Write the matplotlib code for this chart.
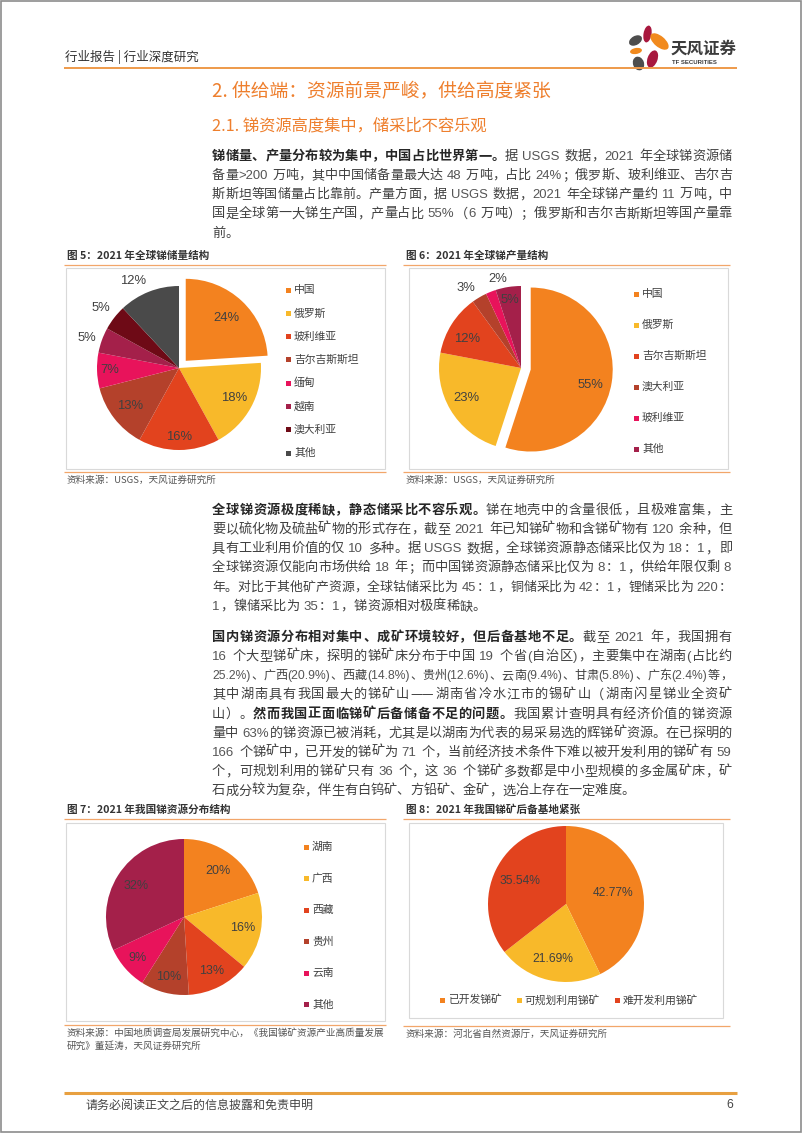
import re
import numpy as np
import matplotlib
matplotlib.use('Agg')
import matplotlib.pyplot as plt
from matplotlib.patches import Rectangle, Ellipse
from matplotlib import font_manager as fm

W, H = 802, 1133
CJK = 'Noto Sans CJK SC'
_names = {f.name for f in fm.fontManager.ttflist}
NARROW = 'Liberation Sans Narrow' if 'Liberation Sans Narrow' in _names else 'Liberation Sans'
plt.rcParams['font.family'] = [CJK, 'DejaVu Sans']

# ---- 数据 ----
res_labels = ['中国', '俄罗斯', '玻利维亚', '吉尔吉斯斯坦', '缅甸', '越南', '澳大利亚', '其他']
res_values = [24, 18, 16, 13, 7, 5, 5, 12]

prod_labels = ['中国', '俄罗斯', '吉尔吉斯斯坦', '澳大利亚', '玻利维亚', '其他']
prod_values = [55, 23, 12, 3, 2, 5]

prov_labels = ['湖南', '广西', '西藏', '贵州', '云南', '其他']
prov_values = [20, 16, 13, 10, 9, 32]

mine_labels = ['已开发锑矿', '可规划利用锑矿', '难开发利用锑矿']
mine_values = [42.77, 21.69, 35.54]

para1 = [
    [('锑储量、产量分布较为集中，中国占比世界第一。', True), ('据 USGS 数据，2021 年全球锑资源储', False)],
    [('备量>200 万吨，其中中国储备量最大达 48 万吨，占比 24%；俄罗斯、玻利维亚、吉尔吉', False)],
    [('斯斯坦等国储量占比靠前。产量方面，据 USGS 数据，2021 年全球锑产量约 11 万吨，中', False)],
    [('国是全球第一大锑生产国，产量占比 55%（6 万吨）；俄罗斯和吉尔吉斯斯坦等国产量靠', False)],
    [('前。', False)],
]
para2 = [
    [('全球锑资源极度稀缺，静态储采比不容乐观。', True), ('锑在地壳中的含量很低，且极难富集，主', False)],
    [('要以硫化物及硫盐矿物的形式存在，截至 2021 年已知锑矿物和含锑矿物有 120 余种，但', False)],
    [('具有工业利用价值的仅 10 多种。据 USGS 数据，全球锑资源静态储采比仅为 18：1，即', False)],
    [('全球锑资源仅能向市场供给 18 年；而中国锑资源静态储采比仅为 8：1，供给年限仅剩 8', False)],
    [('年。对比于其他矿产资源，全球钴储采比为 45：1，铜储采比为 42：1，锂储采比为 220：', False)],
    [('1，镍储采比为 35：1，锑资源相对极度稀缺。', False)],
]
para3 = [
    [('国内锑资源分布相对集中、成矿环境较好，但后备基地不足。', True), ('截至 2021 年，我国拥有', False)],
    [('16 个大型锑矿床，探明的锑矿床分布于中国 19 个省(自治区)，主要集中在湖南(占比约', False)],
    [('25.2%)、广西(20.9%)、西藏(14.8%)、贵州(12.6%)、云南(9.4%)、甘肃(5.8%)、广东(2.4%)等，', False)],
    [('其中湖南具有我国最大的锑矿山——湖南省冷水江市的锡矿山（湖南闪星锑业全资矿', False)],
    [('山）。', False), ('然而我国正面临锑矿后备储备不足的问题。', True), ('我国累计查明具有经济价值的锑资源', False)],
    [('量中 63%的锑资源已被消耗，尤其是以湖南为代表的易采易选的辉锑矿资源。在已探明的', False)],
    [('166 个锑矿中，已开发的锑矿为 71 个，当前经济技术条件下难以被开发利用的锑矿有 59', False)],
    [('个，可规划利用的锑矿只有 36 个，这 36 个锑矿多数都是中小型规模的多金属矿床，矿', False)],
    [('石成分较为复杂，伴生有白钨矿、方铅矿、金矿，选冶上存在一定难度。', False)],
]

# 颜色
ORANGE = '#F3821F'
YELLOW = '#F8B92A'
RED = '#E2431E'
BROWN = '#B4412B'
PINK = '#E8135B'
CRIMSON = '#A4204A'
DARKRED = '#6E0A16'
GRAY = '#4A4A4A'
TITLE_OR = '#EE7F2D'
LINE_OR = '#F2A66A'
TXT = '#404040'


def pt(px):
    return px * 0.72


fig = plt.figure(figsize=(W / 100, H / 100), dpi=100)
fig.patch.set_facecolor('white')
bg = fig.add_axes([0, 0, 1, 1])
bg.set_xlim(0, W)
bg.set_ylim(H, 0)
bg.axis('off')
renderer = fig.canvas.get_renderer()


def hline(y, x0, x1, color, lw):
    bg.plot([x0, x1], [y, y], color=color, lw=lw, solid_capstyle='butt')


TOKEN = re.compile(r'[A-Za-z0-9.%>()]+|—+| |.')


def body_line(y, segs, justify=True, x0=212, x1=732, size=13.2):
    # 两端对齐：逐字放置，多余空间平均分到字间
    objs = []  # [text, width]
    for s, bold in segs:
        for t in TOKEN.findall(s):
            if t == ' ':
                objs.append([None, size * 0.3])
                continue
            wide = ord(t[0]) > 0x2000 and t[0] != '—'
            kw = dict(fontsize=pt(size), va='baseline', ha='left',
                      color='#262626' if bold else TXT,
                      fontweight='bold' if bold else 'normal')
            if t[0].isascii():
                kw['family'] = [NARROW, CJK]
                kw['color'] = '#555555'
            obj = bg.text(x0, y + size * 0.36, t, **kw)
            w = size if wide else obj.get_window_extent(renderer).width + 0.8
            objs.append([obj, w])
    n = len(objs)
    avail = x1 - x0
    gap = 0.0
    if justify and n > 1:
        total = sum(o[1] for o in objs)
        if total > avail:
            k = avail / total
            for o in objs:
                o[1] *= k
                if o[0] is not None:
                    o[0].set_fontsize(o[0].get_fontsize() * k)
        gap = max(0.0, (avail - sum(o[1] for o in objs)) / (n - 1))
    x = x0
    for obj, w in objs:
        if obj is not None:
            obj.set_x(x)
        x += w + gap


def paragraph(lines, y0, step=19.2):
    for i, segs in enumerate(lines):
        body_line(y0 + i * step, segs, justify=(i < len(lines) - 1))


def pie_chart(cx, cy, r, values, colors, dists, fmt, size, explode0=0.0, turns=None):
    pad = 1.5
    R = r * pad
    ax = fig.add_axes([(cx - R) / W, (H - cy - R) / H, 2 * R / W, 2 * R / H])
    explode = [explode0] + [0] * (len(values) - 1)
    wedges, _ = ax.pie(values, colors=colors, startangle=90, counterclock=False,
                       explode=explode, wedgeprops=dict(linewidth=0))
    ax.set_xlim(-pad, pad)
    ax.set_ylim(-pad, pad)
    ax.axis('off')
    turns = turns or [0] * len(values)
    for w, v, d, tr in zip(wedges, values, dists, turns):
        a = np.deg2rad((w.theta1 + w.theta2) / 2 + tr)
        ax.text(w.center[0] + d * np.cos(a), w.center[1] + d * np.sin(a), fmt.format(v),
                ha='center', va='center', fontsize=pt(size), family='Liberation Sans', color=TXT)


def vlegend(x, y0, step, labels, colors):
    for i, (lab, c) in enumerate(zip(labels, colors)):
        y = y0 + i * step
        bg.add_patch(Rectangle((x, y - 2.5), 5, 5, color=c, lw=0))
        bg.text(x + 8, y, lab, fontsize=pt(10.8), va='center', ha='left', color=TXT)


def hlegend(x, y, labels, colors):
    for lab, c in zip(labels, colors):
        bg.add_patch(Rectangle((x, y - 2.5), 5, 5, color=c, lw=0))
        t = bg.text(x + 8, y, lab, fontsize=pt(10.8), va='center', ha='left', color=TXT)
        x = x + 8 + t.get_window_extent(renderer).width + 15


def chart_frame(x0, x1, y_title, title, y_bottom, box, sources):
    bg.text(x0 + 3, y_title, title, fontsize=pt(10.6), fontweight='bold', va='center', color='#333333')
    hline(y_title + 9, x0, x1, LINE_OR, 0.9)
    bx0, by0, bx1, by1 = box
    bg.add_patch(Rectangle((bx0, by0), bx1 - bx0, by1 - by0, fill=False, ec='#D9D9D9', lw=0.8))
    hline(y_bottom, x0, x1, LINE_OR, 0.9)
    for i, s in enumerate(sources):
        bg.text(x0 + 3, y_bottom + 8 + i * 13, s, fontsize=pt(9.6), va='center', color='#555555')


# ---- 页面边框、页眉 ----
bg.add_patch(Rectangle((0.8, 0.8), W - 1.6, H - 1.6, fill=False, ec='#8C8C8C', lw=1.2))
bg.text(65, 57, '行业报告 | 行业深度研究', fontsize=pt(12.5), va='center', color='#333333')
hline(68, 64, 737, '#EE9A4A', 1.4)

# 标志
for (x, y, w, h, a, c) in [(647.5, 34, 8, 17, 10, '#A8183E'),
                           (635.5, 40.5, 9, 14, 60, '#4D4D4D'),
                           (659.5, 41.5, 11, 22, -50, '#F18A1E'),
                           (636, 51, 6, 12, 80, '#F18A1E'),
                           (652.5, 59, 10, 18, 20, '#A8183E'),
                           (638.5, 63.5, 11, 14, -20, '#4D4D4D')]:
    bg.add_patch(Ellipse((x, y), w, h, angle=a, color=c, lw=0))
bg.text(671, 49, '天风证券', fontsize=pt(16.5), fontweight='bold', va='center', color='#3C3C3C')
bg.text(672, 63, 'TF SECURITIES', fontsize=pt(6), fontweight='bold', va='center',
        family='Liberation Sans', color='#3C3C3C')

# ---- 标题 ----
bg.text(212, 92, '2. 供给端：资源前景严峻，供给高度紧张', fontsize=pt(18.8), va='center', color=TITLE_OR)
bg.text(212, 126, '2.1. 锑资源高度集中，储采比不容乐观', fontsize=pt(16.3), va='center', color=TITLE_OR)

paragraph(para1, 155)
paragraph(para2, 509)
paragraph(para3, 636)

# ---- 图 5 ----
chart_frame(64, 386, 256, '图 5：2021 年全球锑储量结构', 472, (66, 268, 385, 469),
            ['资料来源：USGS，天风证券研究所'])
c5 = [ORANGE, YELLOW, RED, BROWN, PINK, CRIMSON, DARKRED, GRAY]
pie_chart(179, 368, 82, res_values, c5, [0.72, 0.77, 0.84, 0.76, 0.84, 1.18, 1.2, 1.2],
          '{:.0f}%', 13, explode0=0.12, turns=[0, 0, 0, 0, 0, 2, 0, 6])
vlegend(286, 290, 23.3, res_labels, c5)

# ---- 图 6 ----
chart_frame(403, 730, 256, '图 6：2021 年全球锑产量结构', 472, (409, 268, 728, 469),
            ['资料来源：USGS，天风证券研究所'])
c6 = [ORANGE, YELLOW, RED, BROWN, PINK, CRIMSON]
pie_chart(521, 368, 82, prod_values, c6, [0.75, 0.76, 0.75, 1.18, 1.12, 0.84],
          '{:.0f}%', 13, explode0=0.12, turns=[-6, -2, 4, 4, -7, 0])
vlegend(634, 294, 31, prod_labels, c6)

# ---- 图 7 ----
chart_frame(64, 386, 810, '图 7：2021 年我国锑资源分布结构', 1025, (66, 823, 385, 1021),
            ['资料来源：中国地质调查局发展研究中心，《我国锑矿资源产业高质量发展',
             '研究》董延涛，天风证券研究所'])
c7 = [ORANGE, YELLOW, RED, BROWN, PINK, CRIMSON]
pie_chart(184, 917, 78, prov_values, c7, [0.73, 0.76, 0.77, 0.79, 0.8, 0.73], '{:.0f}%', 12.5)
vlegend(304, 847, 31.5, prov_labels, c7)

# ---- 图 8 ----
chart_frame(403, 730, 810, '图 8：2021 年我国锑矿后备基地紧张', 1026, (409, 823, 723, 1018),
            ['资料来源：河北省自然资源厅，天风证券研究所'])
c8 = [ORANGE, YELLOW, RED]
pie_chart(566, 904, 78, mine_values, c8, [0.62, 0.73, 0.66], '{:.2f}%', 12)
hlegend(440, 1000, mine_labels, c8)

# ---- 页脚 ----
hline(1093, 64, 737, '#E8A040', 2.2)
bg.text(86, 1105, '请务必阅读正文之后的信息披露和免责申明', fontsize=pt(12), va='center', color='#444444')
bg.text(733, 1105, '6', fontsize=pt(12), va='center', ha='right', color='#444444', family='Liberation Sans')

fig.savefig('out.png', dpi=100, facecolor='white')
